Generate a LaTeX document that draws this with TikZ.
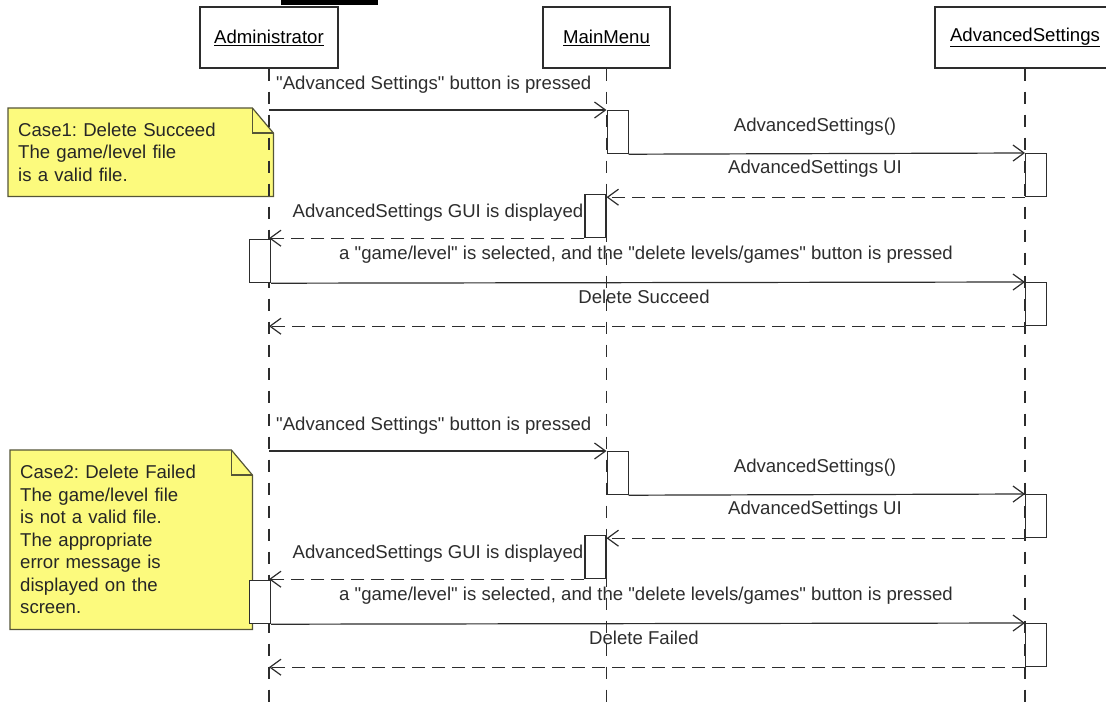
\documentclass[tikz,border=0pt]{standalone}
\usepackage{fontspec}
\setmainfont{Liberation Sans}[Ligatures=TeXOff]
\usepackage{tikz}
\usetikzlibrary{arrows.meta}

\definecolor{ink}{RGB}{45,45,45}
\definecolor{notefill}{RGB}{252,250,125}
\definecolor{noteline}{RGB}{85,85,55}

\pgfdeclarelayer{bg}
\pgfsetlayers{bg,main}

\frenchspacing

\tikzset{
  head/.style={draw=ink, line width=1.4pt, fill=white, minimum height=61pt, inner sep=0pt},
  life/.style={draw=ink, line width=1.2pt, dash pattern=on 12pt off 11pt},
  act/.style={draw=ink, line width=1.2pt, fill=white, minimum width=21pt, minimum height=43pt, inner sep=0pt},
  msg/.style={draw=ink, line width=1.2pt, -{Straight Barb[length=11pt,width=16pt]}},
  ret/.style={msg, dash pattern=on 13pt off 7pt},
  lbl/.style={text=ink, inner sep=0pt},
  notetext/.style={anchor=north west, inner xsep=10pt, inner ysep=0pt, align=left, text=black!85},
  notebox/.style={fill=notefill, draw=noteline, line width=1.2pt},
  notefold/.style={draw=noteline, line width=1.2pt}
}

\begin{document}
\begin{tikzpicture}[x=1pt, y=-1pt, font=\fontsize{18.6}{22.5}\selectfont]

\useasboundingbox (0,0) rectangle (1106,705);
\clip (0,0) rectangle (1106,705);

\fill[black] (281,0) rectangle (378,5);

% Lifeline heads
\path
(269,37.5) node[head, minimum width=138pt] (admin) {\underline{Administrator}}
(606.5,37.5) node[head, minimum width=127pt] (menu) {\underline{MainMenu}}
(1025,37.5) node[head, minimum width=180pt] (adv) {\underline{AdvancedSettings}};

\coordinate (bottom) at (0,705);

\draw[life] (admin.south) -- (admin.south |- bottom);
\draw[life] (menu.south) -- (menu.south |- bottom);
\draw[life] (adv.south) -- (adv.south |- bottom);



% Case 1: delete succeed
\node[notetext, minimum width=265pt, minimum height=88pt, text width=245pt] (note1) at (8,108)
  {Case1: Delete Succeed\\The game/level file\\is a valid file.};

\begin{pgfonlayer}{bg}
\draw[notebox] (note1.north west) -- ([xshift=-21pt]note1.north east) -- ([yshift=-25pt]note1.north east)
  -- (note1.south east) -- (note1.south west) -- cycle;
\draw[notefold] ([xshift=-21pt]note1.north east) |- ([yshift=-25pt]note1.north east);
\end{pgfonlayer}

\node[act, anchor=north west] (m1) at (menu |- 0,110) {};
\node[act, anchor=north west] (a1) at (adv |- 0,153) {};
\node[act, anchor=north east] (m2) at (menu |- 0,194) {};
\node[act, anchor=north east, xshift=2pt] (ad1) at (admin |- 0,239) {};
\node[act, anchor=north west] (a2) at (adv |- 0,282) {};

\draw[msg] (admin |- m1.north west) -- (m1.north west);
\draw[msg] (m1.south east) -- (a1.north west);
\draw[ret] (a1.south west) -- (menu |- a1.south west);
\draw[ret] (m2.south west) -- (admin |- m2.south west);
\draw[msg] (ad1.south east) -- (a2.north west);
\draw[ret] (a2.south west) -- (admin |- a2.south west);

\path
(276,85) node[lbl, anchor=west] (t1) {"Advanced Settings" button is pressed}
(815,127) node[lbl] (t2) {AdvancedSettings()}
(815,169) node[lbl] (t3) {AdvancedSettings UI}
(438,213) node[lbl] (t4) {AdvancedSettings GUI is displayed}
(646,255) node[lbl] (t5) {a "game/level" is selected, and the "delete levels/games" button is pressed}
(644,297) node[lbl] (t6) {Delete Succeed};



% Case 2: delete failed
\node[notetext, minimum width=242pt, minimum height=179pt, text width=222pt] (note2) at (10,450)
  {Case2: Delete Failed\\The game/level file\\is not a valid file.\\The appropriate\\error message is\\displayed on the\\screen.};

\begin{pgfonlayer}{bg}
\draw[notebox] (note2.north west) -- ([xshift=-21pt]note2.north east) -- ([yshift=-25pt]note2.north east)
  -- (note2.south east) -- (note2.south west) -- cycle;
\draw[notefold] ([xshift=-21pt]note2.north east) |- ([yshift=-25pt]note2.north east);
\end{pgfonlayer}

\node[act, anchor=north west] (m3) at (menu |- 0,451) {};
\node[act, anchor=north west] (a3) at (adv |- 0,494) {};
\node[act, anchor=north east] (m4) at (menu |- 0,535) {};
\node[act, anchor=north east, xshift=2pt] (ad2) at (admin |- 0,580) {};
\node[act, anchor=north west] (a4) at (adv |- 0,623) {};

\draw[msg] (admin |- m3.north west) -- (m3.north west);
\draw[msg] (m3.south east) -- (a3.north west);
\draw[ret] (a3.south west) -- (menu |- a3.south west);
\draw[ret] (m4.south west) -- (admin |- m4.south west);
\draw[msg] (ad2.south east) -- (a4.north west);
\draw[ret] (a4.south west) -- (admin |- a4.south west);

\path
(276,426) node[lbl, anchor=west] (u1) {"Advanced Settings" button is pressed}
(815,468) node[lbl] (u2) {AdvancedSettings()}
(815,510) node[lbl] (u3) {AdvancedSettings UI}
(438,554) node[lbl] (u4) {AdvancedSettings GUI is displayed}
(646,596) node[lbl] (u5) {a "game/level" is selected, and the "delete levels/games" button is pressed}
(644,638) node[lbl] (u6) {Delete Failed};

\end{tikzpicture}
\end{document}
